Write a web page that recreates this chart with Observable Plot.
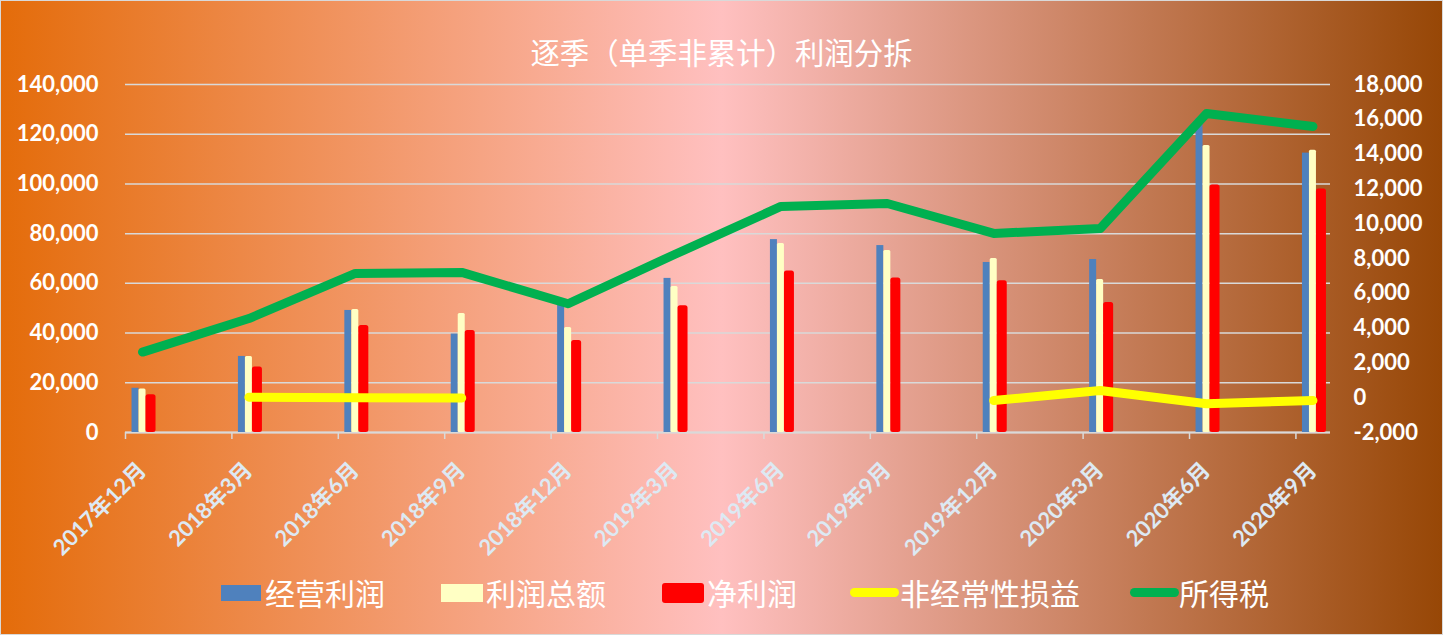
<!DOCTYPE html>
<html>
<head>
<meta charset="utf-8">
<script src="https://cdn.jsdelivr.net/npm/d3@7"></script>
<script src="https://cdn.jsdelivr.net/npm/@observablehq/plot@0.6"></script>
<style>
html, body { margin: 0; padding: 0; background: #fff; }
#chart {
  position: relative; box-sizing: border-box; width: 1443px; height: 635px;
  border: 1px solid #d9d9d9; overflow: hidden;
  background: linear-gradient(to right, #e46c0a 0%, #ffc0c0 50%, #974706 100%);
  font-family: Lato, "Noto Sans CJK SC", sans-serif;
}
#title {
  height: 69px; box-sizing: border-box; padding-top: 35px;
  text-align: center; color: #fff; font-family: "Noto Sans CJK SC", sans-serif;
  font-size: 29.4px; line-height: 30px; white-space: nowrap;
}
#plot { height: 490px; }
#legend { position: relative; height: 74px; font-family: "Noto Sans CJK SC", sans-serif; }
#legend .key { position: absolute; }
#legend .lab { position: absolute; top: 15px; color: #fff; font-size: 30px; line-height: 34px; white-space: nowrap; }
</style>
</head>
<body>
<div id="chart">
  <div id="title">逐季（单季非累计）利润分拆</div>
  <div id="plot"></div>
  <div id="legend"></div>
</div>
<script>
// ---- data ----
const categories = ["2017年12月","2018年3月","2018年6月","2018年9月","2018年12月","2019年3月","2019年6月","2019年9月","2019年12月","2020年3月","2020年6月","2020年9月"];
const operatingProfit = [17800, 30600, 49100, 39600, 51500, 62000, 77600, 75200, 68400, 69600, 126300, 112400];
const totalProfit     = [17500, 30600, 49500, 47900, 42200, 58700, 76000, 73200, 70000, 61600, 115500, 113500];
const netProfit       = [15200, 26400, 43000, 41000, 37000, 51000, 65000, 62200, 61000, 52300, 99600, 98000];
const nonRecurring    = [null, 30, -10, -20, null, null, null, null, -160, 410, -350, -160];
const incomeTax       = [2620, 4550, 7140, 7200, 5400, 8230, 10990, 11160, 9440, 9720, 16330, 15590];
const leftTicks  = [0, 20000, 40000, 60000, 80000, 100000, 120000, 140000];
const rightTicks = [-2000, 0, 2000, 4000, 6000, 8000, 10000, 12000, 14000, 16000, 18000];
const seriesNames = ["经营利润", "利润总额", "净利润", "非经常性损益", "所得税"];
const seriesColors = ["#4f81bd", "#ffffc4", "#ff0000", "#ffff00", "#00b050"];

// ---- helpers ----
const toLeft = v => (v + 2000) * 7;              // right-axis value -> left scale
const fromLeft = d => Math.round(d / 7 - 2000);
const fmt = d3.format(",");
const fmtSigned = v => v < 0 ? "-" + fmt(-v) : fmt(v);
const U = 106.4; // pixels per category (for bar offsets)

const bars = [];
categories.forEach((c, i) => {
  bars.push({i, s: 0, v: operatingProfit[i], a: -10.5, b: -3.5});
  bars.push({i, s: 1, v: totalProfit[i], a: -3.5, b: 3.5});
  bars.push({i, s: 2, v: netProfit[i], a: 3.5, b: 13.5});
});
const rows = categories.map((c, i) => ({i, c, nr: nonRecurring[i], tax: incomeTax[i]}));
const bounds = categories.map((c, i) => i - 0.16);

const plot = Plot.plot({
  width: 1441,
  height: 490,
  marginLeft: 124,
  marginRight: 112,
  marginTop: 14,
  marginBottom: 128,
  style: {background: "transparent", color: "#fff", fontFamily: "Lato, 'Noto Sans CJK SC', sans-serif", overflow: "visible"},
  x: {type: "linear", domain: [-0.16, 11.165]},
  y: {domain: [0, 140000]},
  marks: [
    Plot.gridY(leftTicks, {stroke: "#d9d9d9", strokeOpacity: 1, strokeWidth: 1.5}),
    Plot.ruleY([0], {stroke: "#d9d9d9", strokeWidth: 2}),
    Plot.axisX(bounds, {tickSize: 7, tickFormat: () => "", stroke: "#d9d9d9", strokeWidth: 1.5, label: null}),
    Plot.rectY(bars.filter(d => d.s === 0), {x1: d => d.i + d.a / U, x2: d => d.i + d.b / U, y1: 0, y2: "v", fill: seriesColors[0]}),
    Plot.rectY(bars.filter(d => d.s === 1), {x1: d => d.i + d.a / U, x2: d => d.i + d.b / U, y1: 0, y2: "v", fill: seriesColors[1], rx: 1.5}),
    Plot.rectY(bars.filter(d => d.s === 2), {x1: d => d.i + d.a / U, x2: d => d.i + d.b / U, y1: 0, y2: "v", fill: seriesColors[2], rx: 2.5}),
    Plot.line(rows, {x: "i", y: d => d.tax == null ? NaN : toLeft(d.tax), stroke: seriesColors[4], strokeWidth: 9, strokeLinecap: "round", strokeLinejoin: "round"}),
    Plot.line(rows, {x: "i", y: d => d.nr == null ? NaN : toLeft(d.nr), stroke: seriesColors[3], strokeWidth: 9, strokeLinecap: "round", strokeLinejoin: "round"}),
    Plot.axisY(leftTicks, {anchor: "left", tickSize: 0, tickPadding: 27, tickFormat: fmt, fontSize: 22, fontWeight: "bold", fill: "#fff", label: null}),
    Plot.axisY(rightTicks.map(toLeft), {anchor: "right", tickSize: 0, tickPadding: 23, tickFormat: d => fmtSigned(fromLeft(d)), fontSize: 22, fontWeight: "bold", fill: "#fff", label: null}),
    Plot.text(rows, {x: "i", text: "c", frameAnchor: "bottom", dx: 5, dy: 39, rotate: -45, textAnchor: "end", lineAnchor: "bottom", fontSize: 22, fontWeight: "bold", fill: "#dde9f3"})
  ]
});
document.getElementById("plot").appendChild(plot);

// ---- legend ----
const legend = document.getElementById("legend");
const keys = [
  {left: 220, top: 25, w: 40, h: 16, r: 0},
  {left: 440, top: 24, w: 42, h: 18, r: 0},
  {left: 661, top: 23, w: 42, h: 20, r: 3},
  {left: 849, top: 28, w: 49, h: 9, r: 5},
  {left: 1129, top: 28, w: 49, h: 9, r: 5}
];
const labLeft = [264, 485, 706, 899, 1178];
seriesNames.forEach((name, k) => {
  const key = document.createElement("div");
  key.className = "key";
  Object.assign(key.style, {left: keys[k].left + "px", top: keys[k].top + "px", width: keys[k].w + "px", height: keys[k].h + "px", background: seriesColors[k], borderRadius: keys[k].r + "px"});
  legend.appendChild(key);
  const lab = document.createElement("div");
  lab.className = "lab";
  lab.style.left = labLeft[k] + "px";
  lab.textContent = name;
  legend.appendChild(lab);
});
</script>
</body>
</html>
